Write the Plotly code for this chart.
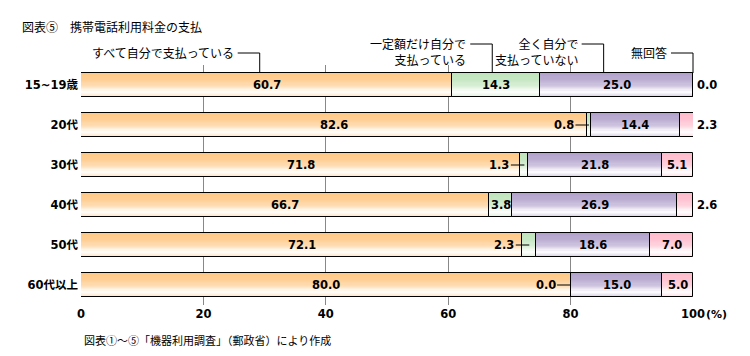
import plotly.graph_objects as go

# ---------------- data ----------------
categories = ["15~19歳", "20代", "30代", "40代", "50代", "60代以上"]
series_names = ["すべて自分で支払っている", "一定額だけ自分で支払っている",
                "全く自分で支払っていない", "無回答"]
self_all = [60.7, 82.6, 71.8, 66.7, 72.1, 80.0]
fixed_part = [14.3, 0.8, 1.3, 3.8, 2.3, 0.0]
none_self = [25.0, 14.4, 21.8, 26.9, 18.6, 15.0]
no_answer = [0.0, 2.3, 5.1, 2.6, 7.0, 5.0]
x_ticks = [0, 20, 40, 60, 80, 100]
x_tick_labels = ["0", "20", "40", "60", "80", "100"]

title_text = "図表⑤　携帯電話利用料金の支払"
source_text = "図表①～⑤「機器利用調査」（郵政省）により作成"
callout_lines = [["すべて自分で支払っている"],
                 ["一定額だけ自分で", "支払っている"],
                 ["全く自分で", "支払っていない"],
                 ["無回答"]]

# ---------------- style ----------------
W, H = 750, 356
ML, MR, MT, MB = 81, 57, 65, 51
PW, PH = W - ML - MR, H - MT - MB
colors = [(255, 199, 132), (190, 228, 186), (177, 161, 203), (255, 186, 203)]
BAR_W = 0.6
N_SLICES = 20
callout_anchor = [29.2, 67.2, 85.4, 100.0]   # where the leader drops (axis units)
callout_line_py = [53, 44, 44, 53]
CJK = "Noto Sans CJK JP"
NUM = "DejaVu Sans, Noto Sans CJK JP"


def px_x(px):
    return (px - ML) / PW


def px_y(py):
    return (MT + PH - py) / PH


def white_mix(t):
    pts = [(0.0, 0.0), (0.3, 0.14), (0.55, 0.4), (0.8, 1.0), (1.0, 0.55)]
    for (t0, w0), (t1, w1) in zip(pts[:-1], pts[1:]):
        if t <= t1:
            return w0 + (w1 - w0) * (t - t0) / (t1 - t0)
    return pts[-1][1]


def shade(c, w):
    r, g, b = [int(round(v + (255 - v) * w)) for v in c]
    return f"rgb({r},{g},{b})"


series = [self_all, fixed_part, none_self, no_answer]
ys = list(range(len(categories)))
bases = []
cum = [0.0] * len(categories)
for s in series:
    bases.append(cum[:])
    cum = [c + v for c, v in zip(cum, s)]

fig = go.Figure()

# gradient fill built from thin horizontal slices
step = BAR_W / N_SLICES
for i, s in enumerate(series):
    for k in range(N_SLICES):
        t = (k + 0.5) / N_SLICES
        fig.add_trace(go.Bar(
            orientation="h", y=ys, x=s, base=bases[i],
            offset=-BAR_W / 2 + k * step, width=step + 0.004,
            marker=dict(color=shade(colors[i], white_mix(t)), line=dict(width=0)),
            hoverinfo="skip", showlegend=False))

# outlines
for i, s in enumerate(series):
    fig.add_trace(go.Bar(
        orientation="h", y=ys, x=s, base=bases[i], width=BAR_W,
        marker=dict(color="rgba(0,0,0,0)", line=dict(color="black", width=1)),
        name=series_names[i], showlegend=False))

annotations = []
numfont = dict(family=NUM, size=11.5, color="black", weight="bold")
for i, s in enumerate(series):
    for j, v in enumerate(s):
        txt = f"{v:.1f}"
        center = bases[i][j] + v / 2
        if i == 1 and v < 3:
            annotations.append(dict(x=center, y=j, xref="x", yref="y", text=txt,
                                    showarrow=True, arrowhead=0, arrowwidth=1,
                                    arrowcolor="black", ax=-25, ay=0, font=numfont))
        elif i == 3 and v < 4:
            annotations.append(dict(x=min(bases[i][j] + v, 100.0), y=j, xref="x", yref="y",
                                    text=txt, showarrow=False, xanchor="left", xshift=2,
                                    font=numfont))
        else:
            annotations.append(dict(x=center, y=j, xref="x", yref="y", text=txt,
                                    showarrow=False, font=numfont))

# callouts above the first bar
shapes = []
bar_top_py = MT + PH * (0.5 - BAR_W / 2) / len(categories)
for i, lines in enumerate(callout_lines):
    ax_px = ML + callout_anchor[i] / 100 * PW
    ly = callout_line_py[i]
    start = ax_px - 22
    shapes.append(dict(type="line", xref="paper", yref="paper",
                       x0=px_x(start), x1=px_x(ax_px), y0=px_y(ly), y1=px_y(ly),
                       line=dict(color="black", width=1)))
    shapes.append(dict(type="line", xref="paper", yref="paper",
                       x0=px_x(ax_px), x1=px_x(ax_px), y0=px_y(ly), y1=px_y(bar_top_py),
                       line=dict(color="black", width=1)))
    centre_py = ly + 7.5 * (len(lines) - 1)
    annotations.append(dict(x=px_x(start - 2), y=px_y(centre_py), xref="paper", yref="paper",
                            text="<br>".join(lines), align="right",
                            showarrow=False, xanchor="right", yanchor="middle",
                            font=dict(family=CJK, size=12, color="black")))

annotations.append(dict(x=px_x(20), y=px_y(27), xref="paper", yref="paper", text=title_text,
                        showarrow=False, xanchor="left", yanchor="middle",
                        font=dict(family=CJK, size=12, color="black")))
annotations.append(dict(x=px_x(82), y=px_y(340), xref="paper", yref="paper", text=source_text,
                        showarrow=False, xanchor="left", yanchor="middle",
                        font=dict(family=CJK, size=11, color="black")))
annotations.append(dict(x=1.0, y=px_y(314), xref="paper", yref="paper", text="(%)",
                        showarrow=False, xanchor="left", yanchor="middle", xshift=11,
                        font=dict(family=NUM, size=11, color="black", weight="bold")))

fig.update_layout(
    width=W, height=H, autosize=False,
    margin=dict(l=ML, r=MR, t=MT, b=MB, pad=0),
    paper_bgcolor="white", plot_bgcolor="white",
    barmode="overlay", bargap=0,
    xaxis=dict(range=[0, 100], tickvals=x_ticks, ticktext=x_tick_labels,
               showgrid=True, gridcolor="#888888", gridwidth=1,
               zeroline=False, showline=False, ticks="",
               tickfont=dict(family=NUM, size=11.5, color="black", weight="bold"),
               fixedrange=True),
    yaxis=dict(range=[len(categories) - 0.5, -0.5], tickvals=ys, ticktext=categories,
               showgrid=False, zeroline=False, showline=False, ticks="",
               ticklabelstandoff=2,
               tickfont=dict(family=NUM, size=11.5, color="black", weight="bold"),
               fixedrange=True),
    annotations=annotations, shapes=shapes,
    font=dict(family=CJK, color="black"),
)

fig.write_html("out.html", post_script="document.body.style.margin='0px';",
               config={"displayModeBar": False})
